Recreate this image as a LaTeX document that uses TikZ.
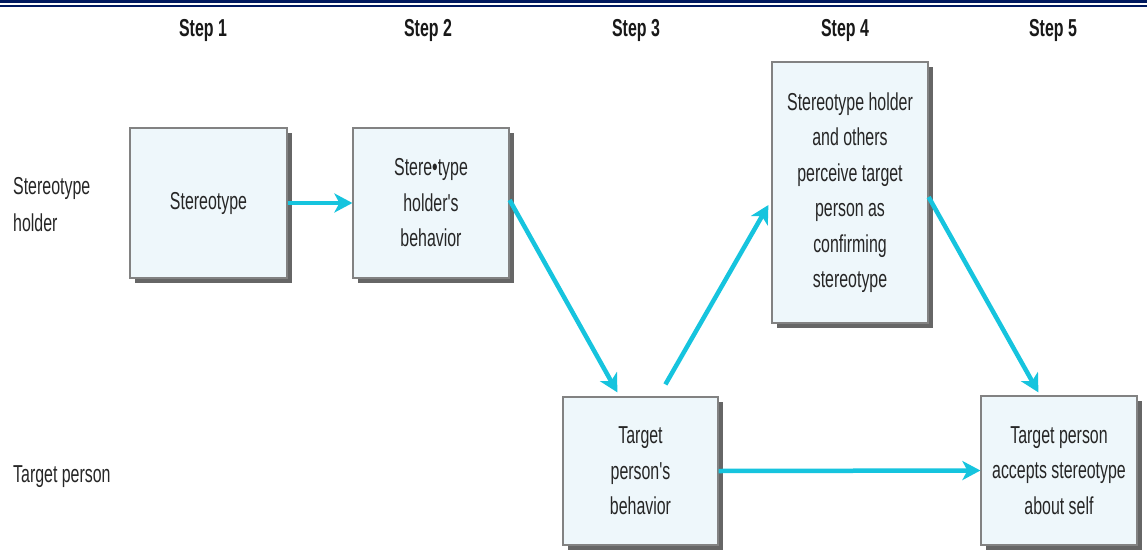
\documentclass[tikz,border=0pt]{standalone}
\usepackage{fontspec}
\setmainfont{Liberation Sans}[FakeStretch=0.65, Ligatures=TeXOff]
\usetikzlibrary{shadows,arrows.meta,calc}
\definecolor{navy}{RGB}{0,25,95}
\definecolor{arrowcyan}{RGB}{22,196,222}
\definecolor{boxfill}{RGB}{238,247,251}
\definecolor{boxline}{RGB}{130,130,130}
\tikzset{
  stepbox/.style={draw=boxline, line width=1.2pt, fill=boxfill, align=center, inner sep=0pt,
    text=black!85, font=\fontsize{24.5}{35.5}\selectfont,
    drop shadow={shadow xshift=5pt, shadow yshift=-5pt, fill=black!60, opacity=1}},
  flow/.style={draw=arrowcyan, line width=4.5pt, -{Stealth[length=18pt,width=19pt,inset=5pt]}},
  steplabel/.style={font=\fontsize{24.5}{28}\selectfont\bfseries, text=black!90},
  rowlabel/.style={font=\fontsize{24.5}{37}\selectfont, text=black!85, align=left, anchor=west, inner sep=0pt}
}
\begin{document}
\begin{tikzpicture}[x=1pt,y=-1pt]
\useasboundingbox (0,0) rectangle (1147,551);
\fill[white] (0,0) rectangle (1147,551);
\fill[navy] (0,0) rectangle (1147,3.2);
\fill[navy] (0,4.8) rectangle (1147,6.8);
% step labels
\node[steplabel] (s1) at (203,30) {Step 1};
\node[steplabel] (s2) at (428,30) {Step 2};
\node[steplabel] (s3) at (636,30) {Step 3};
\node[steplabel] (s4) at (845,30) {Step 4};
\node[steplabel] (s5) at (1053,30) {Step 5};
% row labels
\node[rowlabel] (r1) at (13,205) {Stereotype\\holder};
\node[rowlabel] (r2) at (13,477) {Target person};
% boxes
\node[stepbox, minimum width=157pt, minimum height=150pt] (b1) at (208.5,203) {Stereotype};
\node[stepbox, minimum width=156pt, minimum height=150pt] (b2) at (431,203) {Stere•type\\holder's\\behavior};
\node[stepbox, minimum width=156pt, minimum height=261pt] (b3) at (850,192.5) {Stereotype holder\\and others\\perceive target\\person as\\confirming\\stereotype};
\node[stepbox, minimum width=155pt, minimum height=148pt] (b4) at (640.5,471) {Target\\person's\\behavior};
\node[stepbox, minimum width=156pt, minimum height=149pt] (b5) at (1059,470.5) {Target person\\accepts stereotype\\about self};
% connector end points
\coordinate (a2s) at ($(b2.east)+(0,-3)$);
\coordinate (a2e) at ($(b4.north west)+(55,-4)$);
\coordinate (a3s) at ($(b4.north west)+(103,-12)$);
\coordinate (a3e) at ($(b3.west)+(-3,12.5)$);
\coordinate (a4s) at ($(b3.east)+(0,4.5)$);
\coordinate (a4e) at ($(b5.north west)+(58,-3)$);
% connectors
\draw[flow] (b1.east) -- (b2.west);
\draw[flow] (a2s) -- (a2e);
\draw[flow] (a3s) -- (a3e);
\draw[flow] (a4s) -- (a4e);
\draw[flow] (b4.east) -- (b5.west);
\end{tikzpicture}
\end{document}
